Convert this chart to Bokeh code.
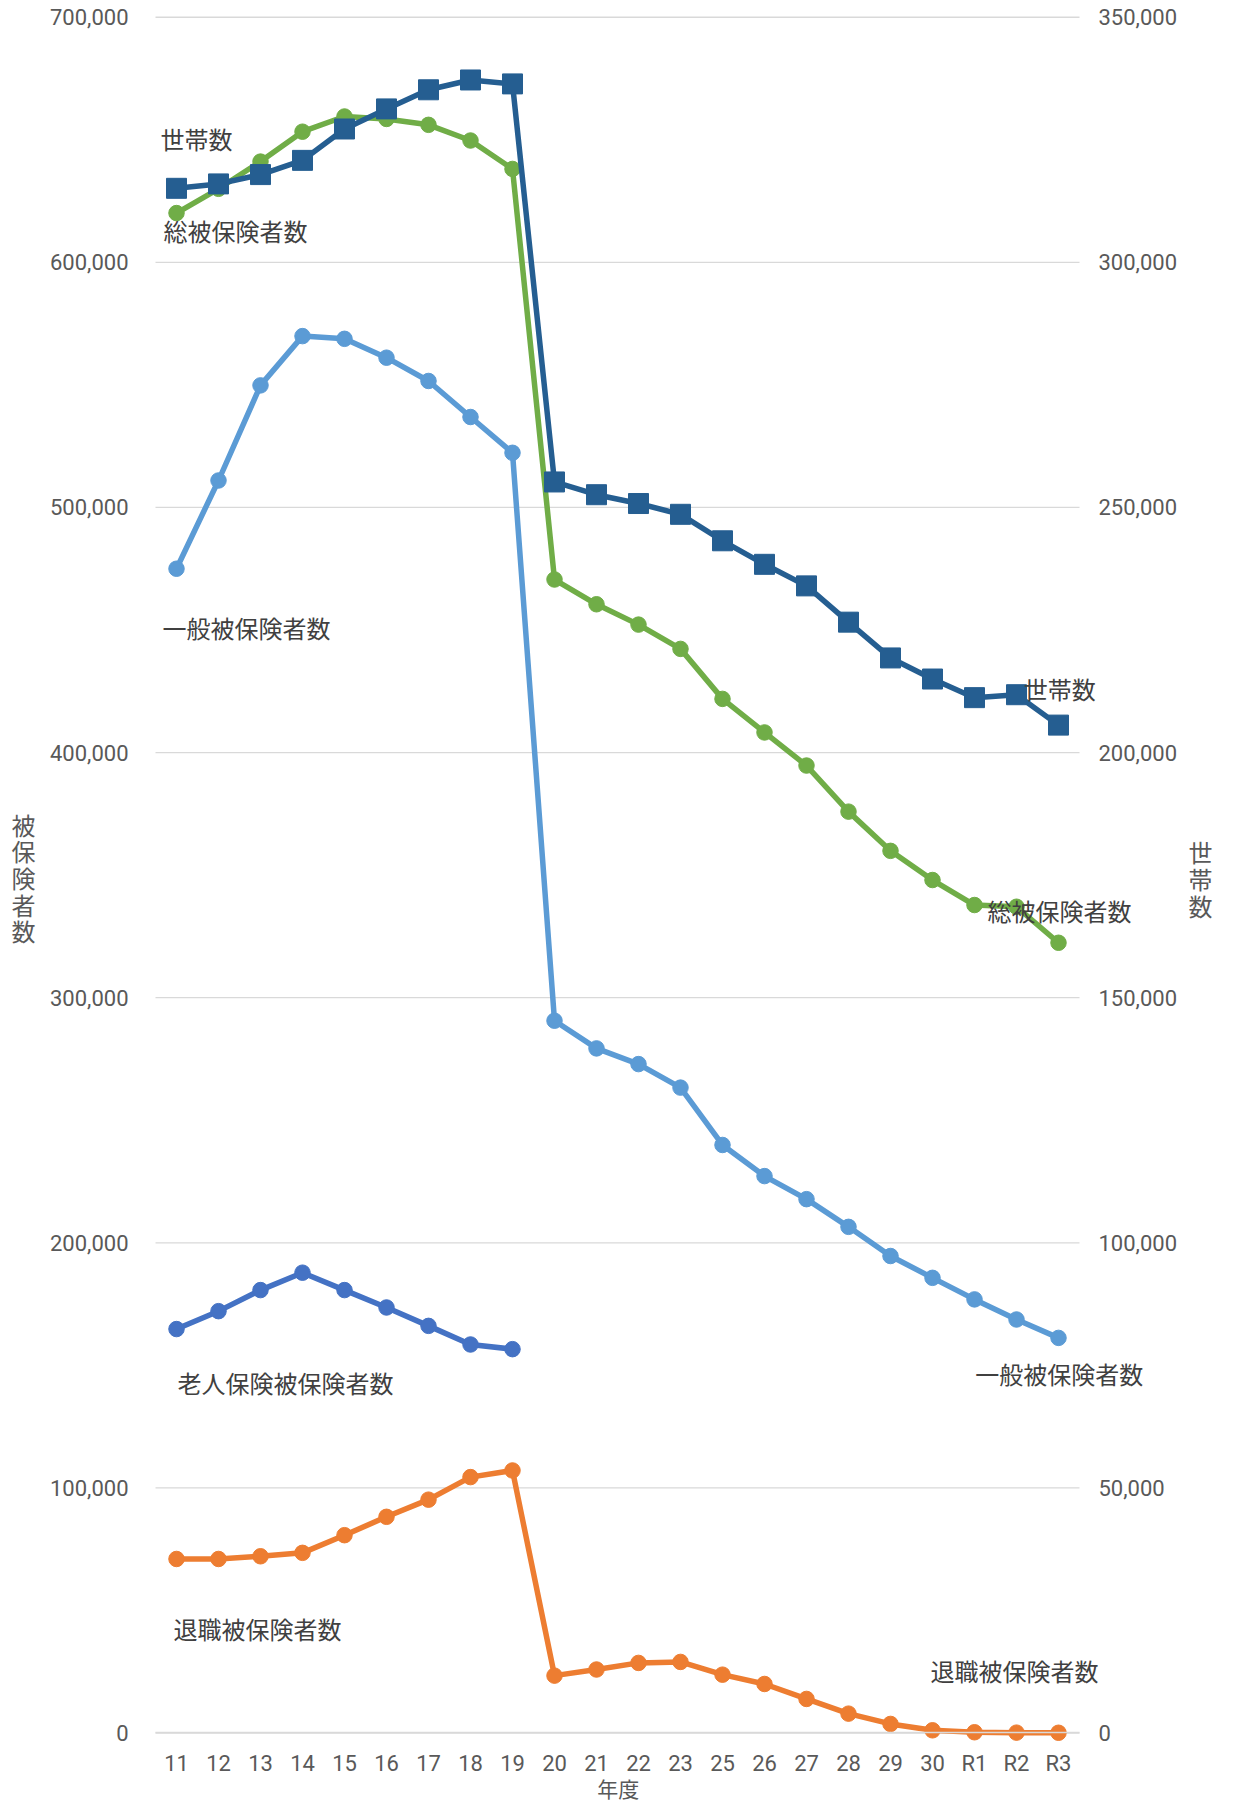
from bokeh.plotting import figure
from bokeh.models import Range1d, LinearAxis, FixedTicker, NumeralTickFormatter, Label
from bokeh.embed import file_html
from bokeh.resources import INLINE

# ---- data ----
categories = ["11", "12", "13", "14", "15", "16", "17", "18", "19", "20", "21",
              "22", "23", "25", "26", "27", "28", "29", "30", "R1", "R2", "R3"]

households = [315100, 316000, 317900, 320800, 327200, 331300, 335200, 337200, 336400,
              255200, 252600, 250800, 248600, 243200, 238400, 234000, 226600, 219300,
              215000, 211200, 211800, 205600]

total_insured = [620100, 630000, 641100, 653300, 659500, 658500, 656100, 649700, 638100,
                 470600, 460500, 452200, 442300, 421900, 408200, 394700, 375900, 359900,
                 348000, 337800, 337100, 322400]

general_insured = [475000, 511000, 549800, 569900, 568800, 561100, 551600, 536900, 522300,
                   290600, 279300, 272900, 263300, 239900, 227200, 217800, 206500, 194600,
                   185700, 176900, 168700, 161200]

elderly_categories = ["11", "12", "13", "14", "15", "16", "17", "18", "19"]
elderly_insured = [164800, 172100, 180700, 187800, 180700, 173600, 166100, 158500, 156600]

retired_insured = [71000, 71000, 72100, 73500, 80700, 88200, 95200, 104400, 107100,
                   23400, 25900, 28600, 29000, 23800, 20000, 13900, 7900, 3700,
                   1100, 300, 150, 100]

left_ticks = [0, 100000, 200000, 300000, 400000, 500000, 600000, 700000]
right_ticks = [0, 50000, 100000, 150000, 200000, 250000, 300000, 350000]

C_HH = "#255E91"
C_TOTAL = "#70AD47"
C_GEN = "#5B9BD5"
C_OLD = "#4472C4"
C_RET = "#ED7D31"
TXT = "#404040"
TICK = "#595959"
GRID = "#d9d9d9"
CJK = "Noto Sans CJK JP"
NUM = "Roboto"

n = len(categories)
xs = list(range(n))
x_lo, x_hi = -0.5, n - 0.5
xs_old = [categories.index(c) for c in elderly_categories]

W, H = 1218, 1802
p = figure(x_range=Range1d(-4.1905, 24.8095), y_range=Range1d(-28355, 706825),
           width=W, height=H, output_backend="svg", toolbar_location=None,
           min_border=0, min_border_left=0, min_border_right=0,
           min_border_top=0, min_border_bottom=0)
p.outline_line_color = None
p.background_fill_color = "white"
p.border_fill_color = "white"
p.xgrid.visible = False
p.ygrid.visible = False

p.extra_y_ranges = {"hh": Range1d(-28355 / 2, 706825 / 2)}

laxis = p.yaxis[0]
laxis.fixed_location = x_lo
laxis.ticker = FixedTicker(ticks=left_ticks)
laxis.formatter = NumeralTickFormatter(format="0,0")

raxis = LinearAxis(y_range_name="hh", ticker=FixedTicker(ticks=right_ticks),
                   formatter=NumeralTickFormatter(format="0,0"), fixed_location=x_hi)
p.add_layout(raxis, "right")

for ax in (laxis, raxis):
    ax.axis_line_color = None
    ax.major_tick_line_color = None
    ax.minor_tick_line_color = None
    ax.major_tick_out = 0
    ax.major_tick_in = 0
    ax.major_label_text_font = NUM
    ax.major_label_text_font_size = "22px"
    ax.major_label_text_color = TICK
laxis.major_label_standoff = 27
raxis.major_label_standoff = 19

xa = p.xaxis[0]
xa.fixed_location = 0
xa.bounds = (x_lo, x_hi)
xa.ticker = FixedTicker(ticks=xs)
xa.major_label_overrides = {i: c for i, c in enumerate(categories)}
xa.axis_line_color = GRID
xa.axis_line_width = 1.5
xa.major_tick_line_color = None
xa.minor_tick_line_color = None
xa.major_tick_out = 0
xa.major_tick_in = 0
xa.major_label_text_font = NUM
xa.major_label_text_font_size = "22px"
xa.major_label_text_color = TICK
xa.major_label_standoff = 18

# horizontal gridlines over the plot area
p.segment(x0=[x_lo] * len(left_ticks), y0=left_ticks, x1=[x_hi] * len(left_ticks),
          y1=left_ticks, line_color=GRID, line_width=1.3)

# ---- series ----
LW = 5.5
CS = 15.5
p.line(xs, retired_insured, line_width=LW, color=C_RET)
p.scatter(xs, retired_insured, marker="circle", size=CS, color=C_RET)

p.line(xs_old, elderly_insured, line_width=LW, color=C_OLD)
p.scatter(xs_old, elderly_insured, marker="circle", size=CS, color=C_OLD)

p.line(xs, general_insured, line_width=LW, color=C_GEN)
p.scatter(xs, general_insured, marker="circle", size=CS, color=C_GEN)

p.line(xs, total_insured, line_width=LW, color=C_TOTAL)
p.scatter(xs, total_insured, marker="circle", size=CS, color=C_TOTAL)

p.line(xs, households, line_width=LW, color=C_HH, y_range_name="hh")
p.scatter(xs, households, marker="square", size=20, color=C_HH, y_range_name="hh")

# ---- series labels ----
def lab(x, y, t, size="24px"):
    p.add_layout(Label(x=x, y=y, text=t, text_font=CJK, text_font_size=size,
                       text_color=TXT, text_align="left", text_baseline="middle"))

lab(-0.381, 650500, "世帯数")
lab(-0.31, 613000, "総被保険者数")
lab(-0.333, 451000, "一般被保険者数")
lab(0.024, 143000, "老人保険被保険者数")
lab(-0.071, 42600, "退職被保険者数")
lab(17.95, 25500, "退職被保険者数")
lab(19.02, 146700, "一般被保険者数")
lab(19.31, 335600, "総被保険者数")
lab(20.17, 426100, "世帯数")

# ---- axis titles ----
def vlab(x, y, t):
    p.add_layout(Label(x=x, y=y, text=t, text_font=CJK, text_font_size="24px",
                       text_color=TICK, text_align="center", text_baseline="middle",
                       text_line_height=0.76))

vlab(-3.643, 349000, "被\n保\n険\n者\n数")
vlab(24.38, 348600, "世\n帯\n数")
p.add_layout(Label(x=10.52, y=-22600, text="年度", text_font=CJK, text_font_size="21px",
                   text_color=TICK, text_align="center", text_baseline="middle"))

open("out.html", "w").write(file_html(p, INLINE))
